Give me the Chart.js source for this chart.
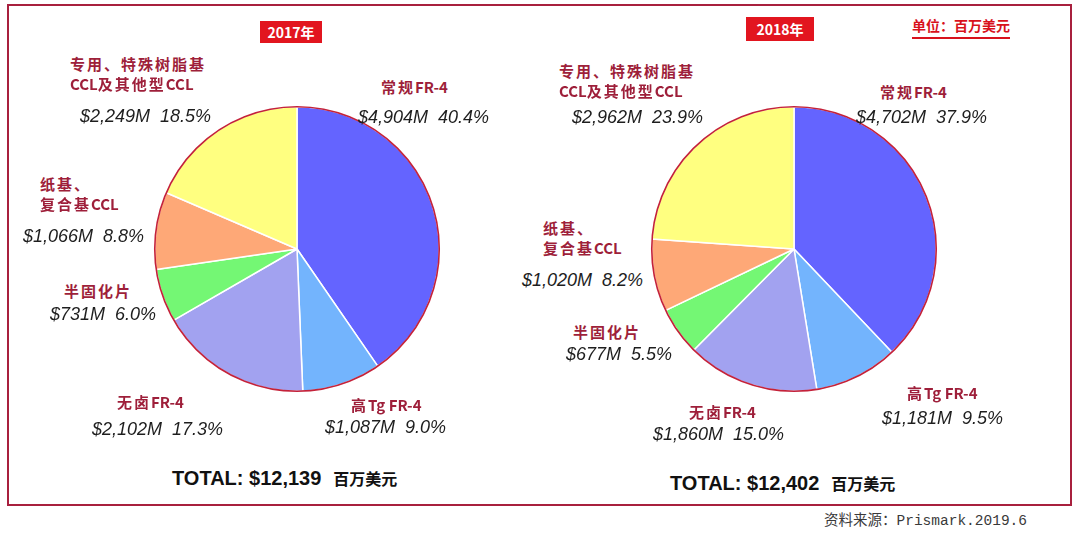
<!DOCTYPE html>
<html>
<head>
<meta charset="utf-8">
<script src="https://cdn.jsdelivr.net/npm/chart.js@4.4.1/dist/chart.umd.min.js"></script>
<style>
  html, body { margin: 0; padding: 0; background: #fff; }
  #stage { position: relative; width: 1080px; height: 544px; overflow: hidden; background: #fff; }
  #frame { position: absolute; left: 7px; top: 4px; width: 1061px; height: 498px; border: 2px solid #a8203e; }
  .pie { position: absolute; }
  .txt { position: absolute; white-space: nowrap; }
  .name { font-family: "Noto Sans CJK SC", sans-serif; font-weight: bold; font-size: 15px; line-height: 21px; color: #9e1f3a; letter-spacing: 2px; }
  .name .lat { letter-spacing: 0; }
  .val { font-family: "Liberation Sans", Arial, sans-serif; font-style: italic; font-size: 18px; line-height: 20px; color: #1e1e1e; }
  .yearbox { position: absolute; background: #e2151f; color: #fff; font-family: "Noto Sans CJK SC", sans-serif; font-weight: bold; font-size: 14px; text-align: center; }
  .total { font-family: "Liberation Sans", Arial, sans-serif; font-weight: bold; font-size: 20px; line-height: 24px; color: #111; }
  .total .unit { font-family: "Noto Sans CJK SC", sans-serif; font-size: 16px; margin-left: 12px; }
  #unit { font-family: "Noto Sans CJK SC", sans-serif; font-weight: bold; font-size: 14px; color: #d8121c; line-height: 20px; border-bottom: 2px solid #d8121c; padding-bottom: 2px; }
  #source { font-family: "Liberation Mono", "Noto Sans CJK SC", monospace; font-size: 14.5px; color: #3a3a3a; line-height: 18px; }
</style>
</head>
<body>
<div id="stage">
  <div id="frame"></div>
  <canvas id="pie2017" class="pie" width="292" height="292" style="left:151px;top:103px;width:292px;height:292px"></canvas>
  <canvas id="pie2018" class="pie" width="292" height="292" style="left:648px;top:103px;width:292px;height:292px"></canvas>
</div>
<script>
// 数据（单位：百万美元）
const categories = [
  ['常规FR-4'],
  ['高Tg FR-4'],
  ['无卤FR-4'],
  ['半固化片'],
  ['纸基、', '复合基CCL'],
  ['专用、特殊树脂基', 'CCL及其他型CCL']
];
const values2017 = [4904, 1087, 2102, 731, 1066, 2249];
const pct2017 = [40.4, 9.0, 17.3, 6.0, 8.8, 18.5];
const values2018 = [4702, 1181, 1860, 677, 1020, 2962];
const pct2018 = [37.9, 9.5, 15.0, 5.5, 8.2, 23.9];
const totals = [12139, 12402];
const years = ['2017年', '2018年'];

const sliceColors = ['#6464ff', '#73b4fd', '#a2a2f0', '#74f774', '#fea877', '#ffff80'];

// 标签位置 [名称x, 名称y, 数值x, 数值y]
const labelPos2017 = [
  [381, 86, 358, 117],
  [351, 404, 325, 427],
  [117, 401, 92, 429],
  [64, 290, 50, 314],
  [40, 183, 23, 236],
  [70, 63, 80, 116]
];
const labelPos2018 = [
  [880, 91, 856, 117],
  [907, 392, 882, 418],
  [689, 411, 653, 434],
  [573, 331, 566, 354],
  [543, 227, 522, 280],
  [559, 70, 572, 117]
];

const stage = document.getElementById('stage');

function addText(cls, html, x, y, lh) {
  const el = document.createElement('div');
  el.className = 'txt ' + cls;
  el.innerHTML = html;
  el.style.left = x + 'px';
  el.style.top = (y - lh / 2) + 'px';
  stage.appendChild(el);
  return el;
}

// 拉丁字母不加字间距
function wrapLatin(s) {
  return s.replace(/([A-Za-z0-9\- ]+)/g, '<span class="lat">$1</span>');
}

function formatValue(v, p) {
  return '$' + v.toLocaleString('en-US') + 'M&nbsp;&nbsp;' + p.toFixed(1) + '%';
}

function addLabels(values, pcts, pos) {
  categories.forEach((lines, i) => {
    const [nx, ny, vx, vy] = pos[i];
    lines.forEach((line, j) => addText('name', wrapLatin(line), nx, ny + j * 20, 21));
    addText('val', formatValue(values[i], pcts[i]), vx, vy, 20);
  });
}

addLabels(values2017, pct2017, labelPos2017);
addLabels(values2018, pct2018, labelPos2018);

// 年份标签
[[260, 21, 62, 22], [746, 17, 68, 24]].forEach(([x, y, w, h], i) => {
  const box = document.createElement('div');
  box.className = 'yearbox';
  box.textContent = years[i];
  Object.assign(box.style, { left: x + 'px', top: y + 'px', width: w + 'px', height: h + 'px', lineHeight: h + 'px' });
  stage.appendChild(box);
});

// 合计
addText('total', 'TOTAL: $' + totals[0].toLocaleString('en-US') + '<span class="unit">百万美元</span>', 172, 478, 24);
addText('total', 'TOTAL: $' + totals[1].toLocaleString('en-US') + '<span class="unit">百万美元</span>', 670, 483, 24);

const unit = addText('', '单位：百万美元', 912, 25, 20);
unit.id = 'unit';
const src = addText('', '资料来源：Prismark.2019.6', 824, 521, 18);
src.id = 'source';

// 外圈红线
const outlinePlugin = {
  id: 'outline',
  afterDatasetsDraw(chart) {
    const arc = chart.getDatasetMeta(0).data[0];
    if (!arc) return;
    const ctx = chart.ctx;
    ctx.save();
    ctx.beginPath();
    ctx.arc(arc.x, arc.y, arc.outerRadius, 0, Math.PI * 2);
    ctx.strokeStyle = '#c4223a';
    ctx.lineWidth = 1.6;
    ctx.stroke();
    ctx.restore();
  }
};

function makePie(id, values) {
  return new Chart(document.getElementById(id), {
    type: 'pie',
    data: {
      labels: categories.map(c => c.join('')),
      datasets: [{
        data: values,
        backgroundColor: sliceColors,
        borderColor: '#ffffff',
        borderWidth: 1.5
      }]
    },
    options: {
      responsive: false,
      animation: false,
      layout: { padding: 3 },
      plugins: {
        legend: { display: false },
        tooltip: { enabled: false }
      }
    },
    plugins: [outlinePlugin]
  });
}

makePie('pie2017', values2017);
makePie('pie2018', values2018);
</script>
</body>
</html>
